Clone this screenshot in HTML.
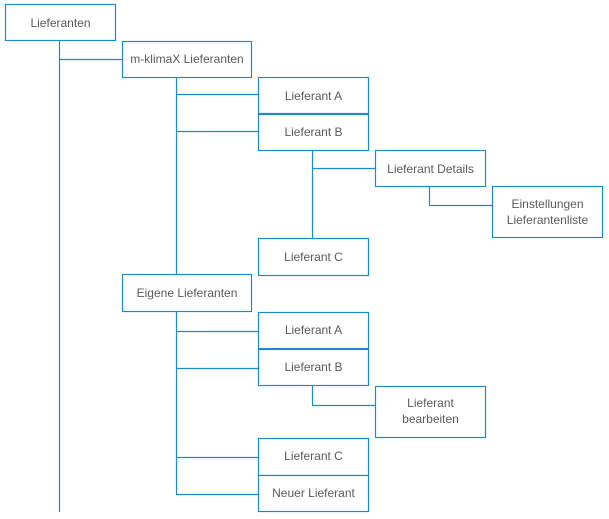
<!DOCTYPE html>
<html><head><meta charset="utf-8"><style>
html,body{margin:0;padding:0;background:#fff;}
svg{display:block;}
text{font-family:"Liberation Sans",sans-serif;font-size:12px;fill:#5a5a5a;text-anchor:middle;}
rect{fill:#fff;stroke:#1b8cc8;stroke-width:1.2;}
line,polyline{stroke:#1b8cc8;stroke-width:1.2;fill:none;}
</style></head><body>
<svg width="609" height="519" viewBox="0 0 609 519">
<!-- connectors -->
<line x1="59.5" y1="40" x2="59.5" y2="512"/>
<line x1="59" y1="59.5" x2="122" y2="59.5"/>
<line x1="176.5" y1="77" x2="176.5" y2="274"/>
<line x1="176" y1="94.5" x2="258" y2="94.5"/>
<line x1="176" y1="131.5" x2="258" y2="131.5"/>
<line x1="312.5" y1="150" x2="312.5" y2="238"/>
<line x1="312" y1="168.5" x2="375" y2="168.5"/>
<polyline points="429.5,186 429.5,205.5 492,205.5"/>
<line x1="176.5" y1="311" x2="176.5" y2="494"/>
<line x1="176" y1="331.5" x2="258" y2="331.5"/>
<line x1="176" y1="368.5" x2="258" y2="368.5"/>
<line x1="176" y1="457.5" x2="258" y2="457.5"/>
<line x1="176" y1="494.5" x2="258" y2="494.5"/>
<polyline points="312.5,385 312.5,405.5 375,405.5"/>
<!-- boxes -->
<rect x="5.5" y="4.5" width="110" height="36"/><text x="60.5" y="27">Lieferanten</text>
<rect x="122.5" y="41.5" width="129" height="36"/><text x="187" y="63">m-klimaX Lieferanten</text>
<rect x="258.5" y="77.5" width="110" height="36"/><text x="313.5" y="100">Lieferant A</text>
<rect x="258.5" y="114.5" width="110" height="36"/><text x="313.5" y="136">Lieferant B</text>
<line x1="258" y1="114" x2="369" y2="114" style="stroke-width:2"/>
<rect x="375.5" y="150.5" width="110" height="36"/><text x="430.5" y="173">Lieferant Details</text>
<rect x="492.5" y="186.5" width="110" height="51"/><text x="547.5" y="208">Einstellungen</text><text x="547.5" y="224">Lieferantenliste</text>
<rect x="258.5" y="238.5" width="110" height="37"/><text x="313.5" y="261">Lieferant C</text>
<rect x="122.5" y="274.5" width="129" height="37"/><text x="187" y="297">Eigene Lieferanten</text>
<rect x="258.5" y="312.5" width="110" height="37"/><text x="313.5" y="334">Lieferant A</text>
<rect x="258.5" y="349.5" width="110" height="36"/><text x="313.5" y="371">Lieferant B</text>
<line x1="258" y1="349" x2="369" y2="349" style="stroke-width:2"/>
<rect x="375.5" y="386.5" width="110" height="51"/><text x="430.5" y="407">Lieferant</text><text x="430.5" y="423">bearbeiten</text>
<rect x="258.5" y="438.5" width="110" height="37"/><text x="313.5" y="460">Lieferant C</text>
<rect x="258.5" y="475.5" width="110" height="36"/><text x="313.5" y="497">Neuer Lieferant</text>
</svg>
</body></html>
